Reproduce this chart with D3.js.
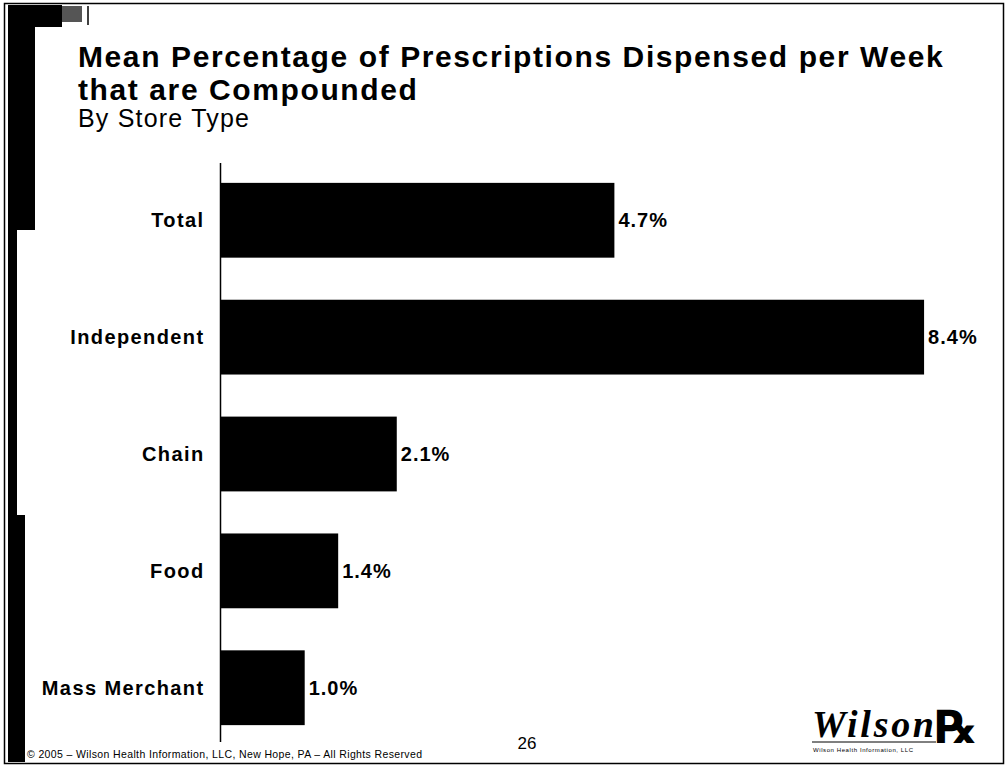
<!DOCTYPE html>
<html>
<head>
<meta charset="utf-8">
<script src="https://cdn.jsdelivr.net/npm/d3@7"></script>
<style>
  html, body { margin: 0; padding: 0; background: #fff; }
  svg { display: block; }
  text { font-family: "Liberation Sans", Arial, sans-serif; fill: #000; }
</style>
</head>
<body>
<script>
// Store types and their mean share of weekly prescriptions that are compounded (%)
const storeTypes = ["Total", "Independent", "Chain", "Food", "Mass Merchant"];
const compoundedPct = [4.7, 8.4, 2.1, 1.4, 1.0];
const valueLabels = ["4.7%", "8.4%", "2.1%", "1.4%", "1.0%"];

const titleLines = ["Mean Percentage of Prescriptions Dispensed per Week", "that are Compounded"];
const subtitle = "By Store Type";
const footer = "\u00A9 2005 \u2013 Wilson Health Information, LLC, New Hope, PA \u2013 All Rights Reserved";
const pageNumber = "26";

const W = 1006, H = 768;
const svg = d3.select("body").append("svg").attr("width", W).attr("height", H);

svg.append("rect").attr("width", W).attr("height", H).attr("fill", "#fff");

// slide frame
const frame = svg.append("g");
frame.append("rect").attr("x", 4.5).attr("y", 3.5).attr("width", 999).attr("height", 760)
  .attr("fill", "none").attr("stroke", "#000").attr("stroke-width", 1.5);
// dark band on the left edge of the slide
frame.append("path")
  .attr("d", "M8,5 L62,5 L62,27 L35,27 L35,230 L17,230 L17,515 L25,515 L25,762 L8,762 Z")
  .attr("fill", "#000");
frame.append("rect").attr("x", 62).attr("y", 6).attr("width", 20).attr("height", 16).attr("fill", "#555");
frame.append("line").attr("x1", 88).attr("x2", 88).attr("y1", 6).attr("y2", 25)
  .attr("stroke", "#000").attr("stroke-width", 1.5);

// titles
svg.append("g").selectAll("text").data(titleLines).join("text")
  .attr("x", 78).attr("y", (d, i) => 67 + i * 33)
  .attr("font-size", 30).attr("font-weight", "bold").attr("letter-spacing", 1.6)
  .text(d => d);
svg.append("text").attr("x", 78).attr("y", 127)
  .attr("font-size", 25).attr("letter-spacing", 1.2)
  .text(subtitle);

// scales
const y = d3.scaleBand().domain(storeTypes).range([163, 745])
  .paddingInner(0.36).paddingOuter(0.17);
const x = d3.scaleLinear().domain([0, 10]).range([221, 221 + 837]);

// bars
svg.append("g").selectAll("rect").data(storeTypes).join("rect")
  .attr("x", x(0)).attr("y", d => y(d))
  .attr("width", (d, i) => x(compoundedPct[i]) - x(0))
  .attr("height", y.bandwidth())
  .attr("fill", "#000");

// category axis (line only, labels drawn alongside)
const axis = svg.append("g").attr("transform", `translate(${x(0) - 0.5},0)`)
  .call(d3.axisLeft(y).tickSize(0).tickPadding(16));
axis.select(".domain").attr("d", "M0,163V742").attr("stroke", "#000").attr("stroke-width", 1.5);
axis.selectAll(".tick text")
  .style("font-family", "Liberation Sans, Arial, sans-serif")
  .attr("font-size", 20).attr("font-weight", "bold").attr("letter-spacing", 1.4)
  .attr("fill", "#000").attr("dy", "0.35em");

// value labels
svg.append("g").selectAll("text").data(storeTypes).join("text")
  .attr("x", (d, i) => x(compoundedPct[i]) + 4)
  .attr("y", d => y(d) + y.bandwidth() / 2)
  .attr("dy", "0.35em")
  .attr("font-size", 20).attr("font-weight", "bold").attr("letter-spacing", 1)
  .text((d, i) => valueLabels[i]);

// footer
svg.append("text").attr("x", 27).attr("y", 758).attr("font-size", 10.5)
  .attr("textLength", 395).text(footer);
svg.append("text").attr("x", 527).attr("y", 749).attr("text-anchor", "middle")
  .attr("font-size", 17).text(pageNumber);

// company logo
const logo = svg.append("g");
logo.append("text").attr("x", 812).attr("y", 737)
  .style("font-family", "'Liberation Serif', 'DejaVu Serif', serif")
  .style("font-style", "italic").style("font-weight", "bold")
  .attr("font-size", 38).attr("textLength", 122).text("Wilson");
logo.append("line").attr("x1", 812).attr("x2", 936).attr("y1", 742).attr("y2", 742)
  .attr("stroke", "#000").attr("stroke-width", 1);
logo.append("text").attr("x", 935).attr("y", 743)
  .style("font-family", "'DejaVu Serif', 'DejaVu Sans', serif")
  .attr("font-weight", "bold").attr("font-size", 46).text("\u211E");
logo.append("text").attr("x", 813).attr("y", 752)
  .attr("font-size", 6).attr("textLength", 100).text("Wilson Health Information, LLC");
</script>
</body>
</html>
